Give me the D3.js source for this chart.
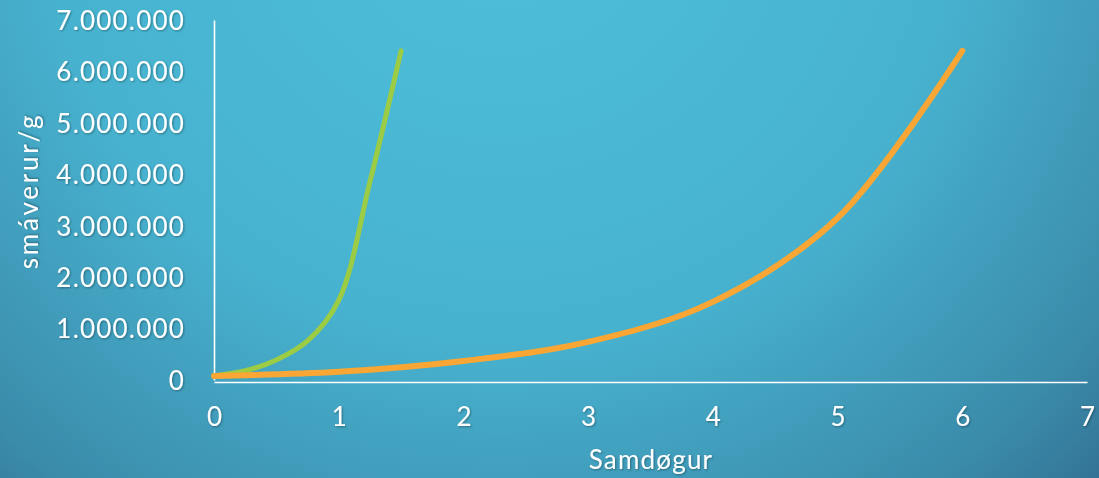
<!DOCTYPE html>
<html>
<head>
<meta charset="utf-8">
<script src="https://cdn.jsdelivr.net/npm/d3@7"></script>
<style>
  html, body { margin: 0; padding: 0; overflow: hidden; }
  text { font-family: "Lato", "Open Sans", sans-serif; font-weight: 400; fill: #fff; }
</style>
</head>
<body>
<div id="chart"></div>
<script>
// data (values in individuals per gram)
var greenDays = [0, 0.25, 0.5, 0.75, 1, 1.25, 1.5]
var greenValues = [80000, 180000, 390000, 760000, 1550000, 3850000, 6400000]
var orangeDays = [0, 1, 2, 3, 4, 5, 6]
var orangeValues = [80000, 160000, 370000, 740000, 1520000, 3150000, 6400000]
var xTicks = [0, 1, 2, 3, 4, 5, 6, 7]
var yTicks = [0, 1000000, 2000000, 3000000, 4000000, 5000000, 6000000, 7000000]
var xTitle = "Samdøgur"
var yTitle = "smáverur/g"

var width = 1099
var height = 478
var margin = { top: 20, right: 12, bottom: 97, left: 214 }

var svg = d3.select("#chart")
    .append("svg")
    .attr("width", width)
    .attr("height", height)

// background gradient + soft text shadow
var defs = svg.append("defs")
var grad = defs.append("radialGradient")
    .attr("id", "bg")
    .attr("gradientUnits", "userSpaceOnUse")
    .attr("cx", 500).attr("cy", -120).attr("r", 920)
grad.append("stop").attr("offset", "0").attr("stop-color", "#4dc1dc")
grad.append("stop").attr("offset", "0.5").attr("stop-color", "#47b2cf")
grad.append("stop").attr("offset", "0.8").attr("stop-color", "#3b8cab")
grad.append("stop").attr("offset", "1").attr("stop-color", "#2e6388")

var shadow = defs.append("filter").attr("id", "shadow")
    .attr("x", "-10%").attr("y", "-20%").attr("width", "130%").attr("height", "150%")
shadow.append("feDropShadow")
    .attr("dx", 1).attr("dy", 1).attr("stdDeviation", 0.8)
    .attr("flood-color", "#000").attr("flood-opacity", 0.35)

svg.append("rect")
    .attr("width", width)
    .attr("height", height)
    .attr("fill", "url(#bg)")

var x = d3.scaleLinear()
    .domain([0, 7])
    .range([margin.left, width - margin.right])

var y = d3.scaleLinear()
    .domain([0, 7000000])
    .range([height - margin.bottom - 1, margin.top])

var fmt = function (d) { return d3.format(",")(d).replace(/,/g, ".") }

// y axis
var yAxis = svg.append("g")
    .attr("transform", "translate(" + margin.left + ",0)")
    .call(d3.axisLeft(y).tickValues(yTicks).tickFormat(fmt).tickSize(0).tickPadding(29))
yAxis.select(".domain").attr("stroke", "#fff").attr("stroke-width", 1.6)
yAxis.selectAll("text")
    .attr("fill", "#fff")
    .style("font-size", "26px")
    .style("letter-spacing", "1.2px")
    .attr("dy", "0.36em")
    .attr("filter", "url(#shadow)")

// x axis
var xAxis = svg.append("g")
    .attr("transform", "translate(0," + (height - margin.bottom + 1) + ")")
    .call(d3.axisBottom(x).tickValues(xTicks).tickFormat(d3.format("d")).tickSize(0).tickPadding(26))
xAxis.select(".domain").attr("stroke", "#fff").attr("stroke-width", 1.6)
xAxis.selectAll("text")
    .attr("fill", "#fff")
    .style("font-size", "26px")
    .attr("filter", "url(#shadow)")

// titles
svg.append("text")
    .attr("x", 651)
    .attr("y", 469)
    .attr("text-anchor", "middle")
    .style("font-size", "26px")
    .style("letter-spacing", "1.2px")
    .attr("filter", "url(#shadow)")
    .text(xTitle)

svg.append("text")
    .attr("transform", "translate(38,191) rotate(-90)")
    .attr("text-anchor", "middle")
    .style("font-size", "26px")
    .style("letter-spacing", "2.8px")
    .attr("filter", "url(#shadow)")
    .text(yTitle)

// lines
var line = d3.line()
    .x(function (d) { return x(d[0]) })
    .y(function (d) { return y(d[1]) })
    .curve(d3.curveCatmullRom.alpha(0.5))

var series = [
    { days: greenDays, values: greenValues, color: "#9ccb44", w: 5 },
    { days: orangeDays, values: orangeValues, color: "#f9a634", w: 6 }
]

// green drawn first, orange on top as in the reference
svg.selectAll("path.series")
    .data(series)
    .enter()
    .append("path")
    .attr("class", "series")
    .attr("fill", "none")
    .attr("stroke", function (d) { return d.color })
    .attr("stroke-width", function (d) { return d.w })
    .attr("stroke-linecap", "round")
    .attr("stroke-linejoin", "round")
    .attr("d", function (d) { return line(d3.zip(d.days, d.values)) })
</script>
</body>
</html>
